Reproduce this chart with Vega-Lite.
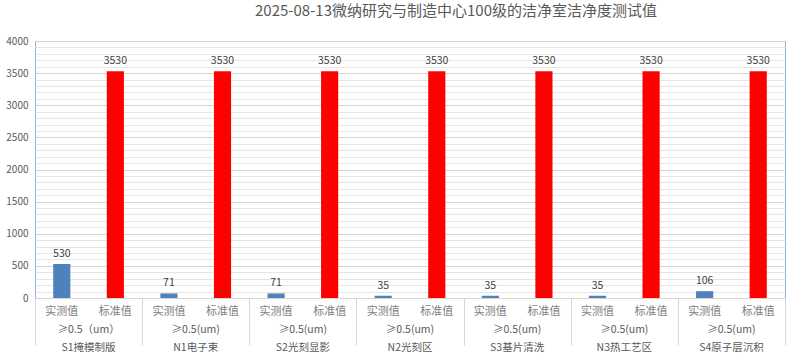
{
  "$schema": "https://vega.github.io/schema/vega-lite/v6.json",
  "autosize": {"type": "none"},
  "padding": {"left": 35, "top": 41, "right": 13, "bottom": 64},
  "width": 750,
  "height": 257,
  "background": "white",
  "config": {
    "font": "Noto Sans CJK SC",
    "view": {"stroke": "#8EB4E3", "strokeWidth": 1}
  },
  "title": {
    "text": "2025-08-13微纳研究与制造中心100级的洁净室洁净度测试值",
    "fontSize": 15,
    "fontWeight": "normal",
    "color": "#595959",
    "anchor": "middle",
    "dx": 46,
    "offset": 17
  },
  "data": {
    "values": [
      {"room": "S1掩模制版", "key": "S1掩模制版|实测值", "type": "实测值", "value": 530},
      {"room": "S1掩模制版", "key": "S1掩模制版|标准值", "type": "标准值", "value": 3530},
      {"room": "N1电子束", "key": "N1电子束|实测值", "type": "实测值", "value": 71},
      {"room": "N1电子束", "key": "N1电子束|标准值", "type": "标准值", "value": 3530},
      {"room": "S2光刻显影", "key": "S2光刻显影|实测值", "type": "实测值", "value": 71},
      {"room": "S2光刻显影", "key": "S2光刻显影|标准值", "type": "标准值", "value": 3530},
      {"room": "N2光刻区", "key": "N2光刻区|实测值", "type": "实测值", "value": 35},
      {"room": "N2光刻区", "key": "N2光刻区|标准值", "type": "标准值", "value": 3530},
      {"room": "S3基片清洗", "key": "S3基片清洗|实测值", "type": "实测值", "value": 35},
      {"room": "S3基片清洗", "key": "S3基片清洗|标准值", "type": "标准值", "value": 3530},
      {"room": "N3热工艺区", "key": "N3热工艺区|实测值", "type": "实测值", "value": 35},
      {"room": "N3热工艺区", "key": "N3热工艺区|标准值", "type": "标准值", "value": 3530},
      {"room": "S4原子层沉积", "key": "S4原子层沉积|实测值", "type": "实测值", "value": 106},
      {"room": "S4原子层沉积", "key": "S4原子层沉积|标准值", "type": "标准值", "value": 3530}
    ]
  },
  "resolve": {"scale": {"x": "independent"}, "axis": {"x": "independent", "y": "independent"}},
  "layer": [
    {
      "mark": {"type": "point", "opacity": 0},
      "encoding": {
        "x": {
          "datum": 0,
          "type": "quantitative",
          "scale": {"domain": [0, 7], "nice": false, "zero": false},
          "axis": {
            "orient": "bottom",
            "values": [0, 1, 2, 3, 4, 5, 6, 7],
            "labels": false,
            "domain": false,
            "grid": false,
            "ticks": true,
            "tickSize": 47,
            "tickColor": "#D9D9D9",
            "title": null
          }
        },
        "y": {
          "field": "value",
          "type": "quantitative",
          "scale": {"domain": [0, 4000], "nice": false},
          "axis": {
            "orient": "left",
            "values": [100, 200, 300, 400, 600, 700, 800, 900, 1100, 1200, 1300, 1400, 1600, 1700, 1800, 1900, 2100, 2200, 2300, 2400, 2600, 2700, 2800, 2900, 3100, 3200, 3300, 3400, 3600, 3700, 3800, 3900],
            "labels": false,
            "ticks": false,
            "domain": false,
            "grid": true,
            "gridColor": "#E6E6E6",
            "title": null
          }
        }
      }
    },
    {
      "mark": {"type": "bar"},
      "encoding": {
        "x": {
          "field": "key",
          "type": "nominal",
          "sort": null,
          "scale": {"paddingInner": 0.68, "paddingOuter": 0.34},
          "axis": {
            "orient": "bottom",
            "title": null,
            "labelExpr": "split(datum.value, '|')[1]",
            "labelAngle": 0,
            "labelFontSize": 11,
            "labelColor": "#7F7F7F",
            "labelPadding": 7,
            "ticks": false,
            "domain": false,
            "grid": false
          }
        },
        "y": {
          "field": "value",
          "type": "quantitative",
          "scale": {"domain": [0, 4000], "nice": false},
          "axis": {
            "orient": "left",
            "title": null,
            "format": "d",
            "values": [0, 500, 1000, 1500, 2000, 2500, 3000, 3500, 4000],
            "labelFontSize": 10,
            "labelColor": "#595959",
            "labelPadding": 7,
            "ticks": false,
            "domain": false,
            "grid": true,
            "gridColor": "#D4D4D4"
          }
        },
        "color": {
          "field": "type",
          "type": "nominal",
          "scale": {"domain": ["实测值", "标准值"], "range": ["#4F81BD", "#FF0000"]},
          "legend": null
        }
      }
    },
    {
      "mark": {"type": "text", "baseline": "bottom", "dy": -5, "fontSize": 10.5, "color": "#404040"},
      "encoding": {
        "x": {
          "field": "key",
          "type": "nominal",
          "sort": null,
          "scale": {"paddingInner": 0.68, "paddingOuter": 0.34},
          "axis": null
        },
        "y": {
          "field": "value",
          "type": "quantitative",
          "scale": {"domain": [0, 4000], "nice": false},
          "axis": null
        },
        "text": {"field": "value", "type": "quantitative"}
      }
    },
    {
      "mark": {"type": "bar", "opacity": 0},
      "encoding": {
        "x": {
          "field": "room",
          "type": "nominal",
          "sort": null,
          "scale": {"paddingInner": 0, "paddingOuter": 0},
          "axis": {
            "orient": "bottom",
            "title": null,
            "labelExpr": "[datum.value == 'S1掩模制版' ? '≥0.5（um）' : '≥0.5(um)', datum.value]",
            "labelAngle": 0,
            "labelFontSize": 10.5,
            "labelColor": "#595959",
            "labelPadding": 26,
            "labelLineHeight": 18,
            "labelBaseline": "top",
            "ticks": false,
            "domain": false,
            "grid": false
          }
        },
        "y": {
          "field": "value",
          "type": "quantitative",
          "scale": {"domain": [0, 4000], "nice": false},
          "axis": null
        }
      }
    }
  ]
}
